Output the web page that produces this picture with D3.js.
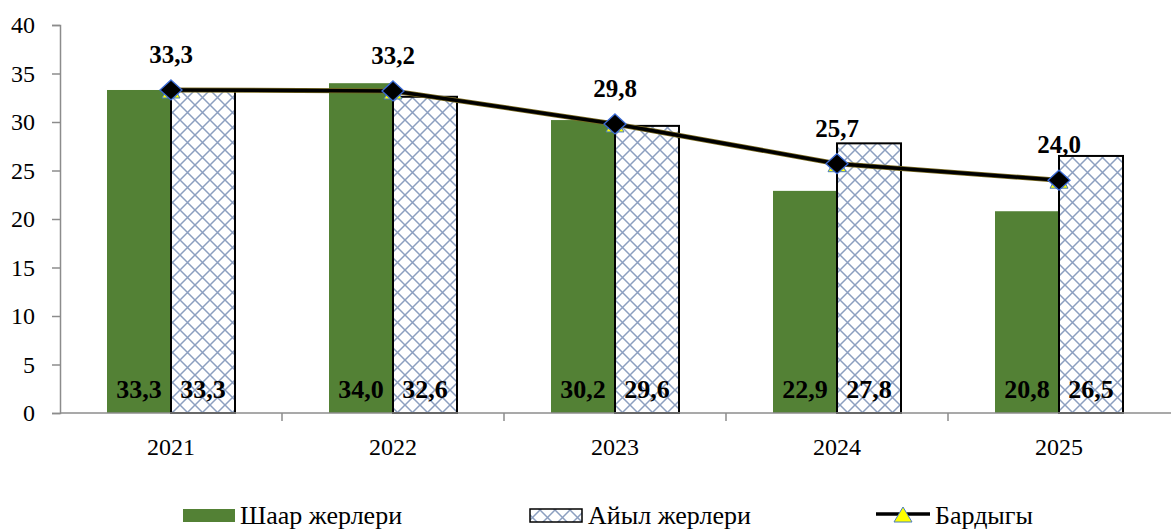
<!DOCTYPE html>
<html>
<head>
<meta charset="utf-8">
<script src="https://cdn.jsdelivr.net/npm/d3@7"></script>
<style>
body{margin:0;background:#fff;}
svg{display:block;font-family:"Liberation Serif","Times New Roman",serif;}
</style>
</head>
<body>
<svg id="chart" width="1171" height="531"></svg>
<script>
const years = ["2021","2022","2023","2024","2025"];
const urban = [33.3, 34.0, 30.2, 22.9, 20.8];
const rural = [33.3, 32.6, 29.6, 27.8, 26.5];
const total = [33.3, 33.2, 29.8, 25.7, 24.0];
const yTicks = [0,5,10,15,20,25,30,35,40];
const seriesNames = ["Шаар жерлери","Айыл жерлери","Бардыгы"];

const fmt = v => v.toFixed(1).replace(".", ",");
const svg = d3.select("#chart");
const mLeft = 60, mRight = 1170, mTop = 25, mBottom = 413;

const defs = svg.append("defs");
const pat = defs.append("pattern").attr("id","hatch").attr("patternUnits","userSpaceOnUse")
  .attr("width",15).attr("height",15);
pat.append("rect").attr("width",15).attr("height",15).attr("fill","#fff");
pat.append("path").attr("d","M0,0L15,15M15,0L0,15M-1,14L1,16M14,-1L16,1")
  .attr("stroke","#8c9fc0").attr("stroke-width",1.5);

const x = d3.scaleBand().domain(years).range([mLeft,mRight]);
const y = d3.scaleLinear().domain([0,40]).range([mBottom,mTop]);
const barW = 64;

// axes
const yAxis = svg.append("g").attr("transform",`translate(${mLeft},0)`)
  .call(d3.axisLeft(y).tickValues(yTicks).tickSize(8).tickPadding(17));
yAxis.select(".domain").attr("stroke","#8c8c8c").attr("stroke-width",1.5);
yAxis.selectAll(".tick line").attr("stroke","#8c8c8c").attr("stroke-width",1.5);
yAxis.selectAll("text").attr("font-size",24).attr("fill","#000")
  .attr("font-family","Liberation Serif");

// bars
const g = svg.append("g");
g.selectAll(".u").data(years).enter().append("rect")
  .attr("x",d=>x(d)+x.bandwidth()/2-barW).attr("width",barW)
  .attr("y",(d,i)=>y(urban[i])).attr("height",(d,i)=>mBottom-y(urban[i]))
  .attr("fill","#538135");
g.selectAll(".r").data(years).enter().append("rect")
  .attr("x",d=>x(d)+x.bandwidth()/2).attr("width",barW)
  .attr("y",(d,i)=>y(rural[i])).attr("height",(d,i)=>mBottom-y(rural[i]))
  .attr("fill","url(#hatch)").attr("stroke","#000").attr("stroke-width",2);

// bar labels
g.selectAll(".ul").data(years).enter().append("text")
  .attr("x",d=>x(d)+x.bandwidth()/2-barW/2).attr("y",398)
  .attr("text-anchor","middle").attr("font-size",26).attr("font-weight","bold")
  .text((d,i)=>fmt(urban[i]));
g.selectAll(".rl").data(years).enter().append("text")
  .attr("x",d=>x(d)+x.bandwidth()/2+barW/2).attr("y",398)
  .attr("text-anchor","middle").attr("font-size",26).attr("font-weight","bold")
  .text((d,i)=>fmt(rural[i]));

// x axis
const xAxis = svg.append("g").attr("transform",`translate(0,${mBottom})`);
xAxis.append("line").attr("x1",mLeft).attr("x2",1171).attr("stroke","#8c8c8c").attr("stroke-width",1.5);
years.forEach((d,i)=>{
  if(i>0) xAxis.append("line").attr("x1",x(d)).attr("x2",x(d)).attr("y1",0).attr("y2",8)
    .attr("stroke","#8c8c8c").attr("stroke-width",1.5);
});
xAxis.selectAll("text").data(years).enter().append("text")
  .attr("x",d=>x(d)+x.bandwidth()/2).attr("y",42).attr("text-anchor","middle")
  .attr("font-size",24).text(d=>d);

// line
const line = d3.line().x((d,i)=>x(years[i])+x.bandwidth()/2).y(d=>y(d));
svg.append("path").datum(total).attr("d",line).attr("fill","none")
  .attr("stroke","#7a6a20").attr("stroke-width",5);
svg.append("path").datum(total).attr("d",line).attr("fill","none")
  .attr("stroke","#000").attr("stroke-width",3.5);

const triPath = "M0,-9L9,7L-9,7Z";
const diaPath = "M0,-10L11,0L0,10L-11,0Z";
const mk = svg.append("g");
total.forEach((v,i)=>{
  const cx = x(years[i])+x.bandwidth()/2, cy = y(v);
  mk.append("path").attr("d",triPath).attr("transform",`translate(${cx},${cy+1})`)
    .attr("fill","#ffff00").attr("stroke","#4a7ebb").attr("stroke-width",1);
  mk.append("path").attr("d",diaPath).attr("transform",`translate(${cx},${cy})`)
    .attr("fill","#000").attr("stroke","#3b6bd6").attr("stroke-width",1.3);
  mk.append("text").attr("x",cx).attr("y",cy-27).attr("text-anchor","middle")
    .attr("font-size",25).attr("font-weight","bold").text(fmt(v));
});

// legend
const lg = svg.append("g");
lg.append("rect").attr("x",183).attr("y",509).attr("width",52).attr("height",13).attr("fill","#538135");
lg.append("text").attr("x",240).attr("y",524).attr("font-size",26).text(seriesNames[0]);
lg.append("rect").attr("x",530).attr("y",509).attr("width",52).attr("height",13)
  .attr("fill","url(#hatch)").attr("stroke","#000").attr("stroke-width",1.5);
lg.append("text").attr("x",588).attr("y",524).attr("font-size",26).text(seriesNames[1]);
lg.append("line").attr("x1",876).attr("x2",930).attr("y1",514).attr("y2",514)
  .attr("stroke","#000").attr("stroke-width",3.5);
lg.append("path").attr("d","M0,-8L9,7L-9,7Z").attr("transform","translate(903,515)")
  .attr("fill","#ffff00").attr("stroke","#4a7ebb").attr("stroke-width",1);
lg.append("text").attr("x",935).attr("y",524).attr("font-size",26).text(seriesNames[2]);
</script>
</body>
</html>
